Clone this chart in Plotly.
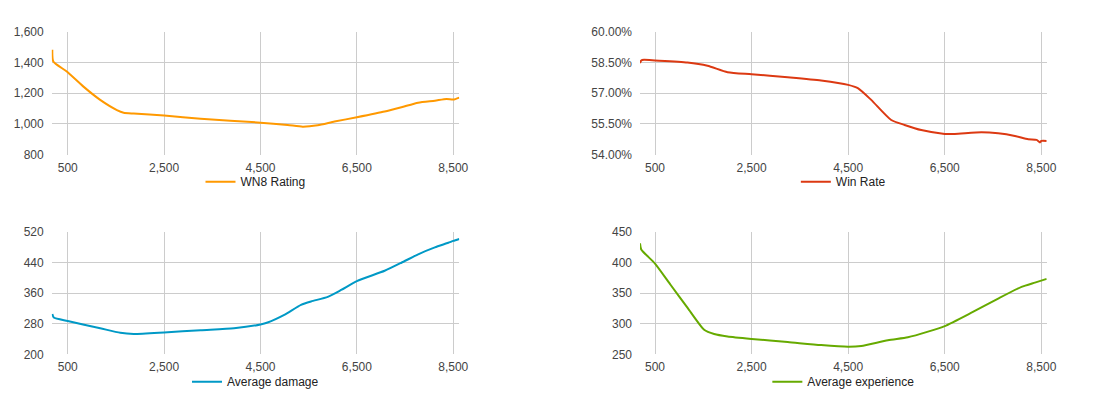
import plotly.graph_objects as go

# ---- data ----
wn8_x = [180, 200, 480, 826, 1173, 1520, 1660, 1868, 2500, 3257, 4500, 5062, 5375, 5688, 6035, 6500, 7076, 7424, 7771, 8118, 8361, 8500, 8625]
wn8_y = [1481, 1405, 1340, 1242, 1156, 1090, 1073, 1067, 1054, 1034, 1008, 993, 982, 991, 1015, 1043, 1080, 1108, 1138, 1151, 1162, 1158, 1171]

win_x = [189, 215, 272, 500, 1171, 1587, 2002, 2500, 3247, 3939, 4500, 4700, 4976, 5391, 5668, 6014, 6500, 6707, 7260, 7606, 7952, 8229, 8402, 8471, 8500, 8611]
win_y = [58.46, 58.59, 58.62, 58.59, 58.49, 58.33, 58.02, 57.92, 57.77, 57.61, 57.40, 57.24, 56.67, 55.69, 55.45, 55.20, 55.01, 55.01, 55.09, 55.04, 54.91, 54.75, 54.72, 54.60, 54.67, 54.67]

dmg_x = [180, 210, 500, 1174, 1590, 1868, 2500, 3257, 3951, 4500, 4646, 4993, 5340, 5549, 5896, 6174, 6500, 7076, 7424, 7771, 8118, 8396, 8500, 8625]
dmg_y = [305, 296, 287, 268, 256, 253, 257, 263, 268, 278, 283, 303, 329, 338, 350, 368, 391, 418, 439, 461, 479, 491, 496, 501]

exp_x = [189, 215, 500, 825, 1171, 1517, 1725, 2002, 2500, 3247, 3939, 4500, 4770, 5322, 5737, 6153, 6500, 7033, 7606, 8090, 8367, 8611]
exp_y = [431, 421, 398, 363, 326, 290, 283, 279, 275, 270, 265, 262.5, 263.6, 273, 277.8, 287, 296, 317, 341, 360, 367, 373]

x_ticks = [500, 2500, 4500, 6500, 8500]
names = ["WN8 Rating", "Win Rate", "Average damage", "Average experience"]
colors = ["#FF9900", "#DC3912", "#0099C6", "#66AA00"]

W, H = 1108, 398
FONT = "Arial, 'Liberation Sans', sans-serif"
FS = 12

fig = go.Figure()
series = [(wn8_x, wn8_y), (win_x, win_y), (dmg_x, dmg_y), (exp_x, exp_y)]
for i, (xs, ys) in enumerate(series):
    sfx = "" if i == 0 else str(i + 1)
    fig.add_trace(go.Scatter(
        x=xs, y=ys, mode="lines", name=names[i],
        line=dict(color=colors[i], width=2, shape="spline", smoothing=0.6),
        xaxis="x" + sfx, yaxis="y" + sfx,
        legend="legend" + sfx, showlegend=True,
        hoverinfo="skip"))

# plot areas in pixels (left, right, top, bottom)
boxes = [(51.7, 459.3, 31.5, 154.7), (640.0, 1046.7, 31.5, 154.7),
         (51.7, 459.3, 231.7, 354.3), (640.0, 1046.7, 231.7, 354.3)]
xranges = [[167, 8625], [189, 8611], [167, 8625], [189, 8611]]
yconf = [dict(range=[800, 1600], tick0=800, dtick=200, tickformat=","),
         dict(range=[54, 60], tick0=54, dtick=1.5, tickformat=".2f", ticksuffix="%"),
         dict(range=[200, 520], tick0=200, dtick=80, tickformat=","),
         dict(range=[250, 450], tick0=250, dtick=50, tickformat=",")]
legend_y = [181.7, 181.7, 381.7, 381.7]

layout = dict(
    width=W, height=H, margin=dict(l=0, r=0, t=0, b=0, autoexpand=False),
    paper_bgcolor="white", plot_bgcolor="white",
    font=dict(family=FONT, size=FS, color="#444444"),
    hovermode=False,
)
for i, (l, r, t, b) in enumerate(boxes):
    sfx = "" if i == 0 else str(i + 1)
    layout["xaxis" + sfx] = dict(
        domain=[l / W, r / W], range=xranges[i], tickvals=x_ticks, tickformat=",",
        showgrid=True, gridcolor="#cccccc", gridwidth=1, zeroline=False,
        showline=False, ticks="", anchor="y" + sfx, fixedrange=True, automargin=False,
        ticklabelstandoff=4, tickfont=dict(size=FS, color="#444444"))
    layout["yaxis" + sfx] = dict(
        domain=[1 - b / H, 1 - t / H], showgrid=True, gridcolor="#cccccc", gridwidth=1,
        zeroline=False, showline=False, ticks="", ticklen=0, anchor="x" + sfx,
        fixedrange=True, automargin=False, ticklabelstandoff=7,
        tickfont=dict(size=FS, color="#444444"),
        **yconf[i])
    layout["legend" + sfx] = dict(
        x=(l + r) / 2 / W, y=1 - legend_y[i] / H, xanchor="center", yanchor="middle",
        orientation="h", bgcolor="rgba(0,0,0,0)",
        font=dict(family=FONT, size=FS, color="#222222"))

fig.update_layout(**layout)
fig.write_html("out.html", config={"displayModeBar": False},
               post_script="document.body.style.margin='0';document.body.style.padding='0';")
